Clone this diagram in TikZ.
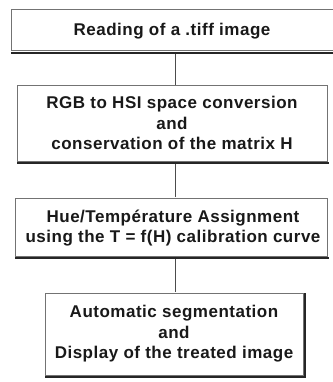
\documentclass[tikz,border=0pt]{standalone}
\usepackage{fontspec}
\setmainfont{Liberation Sans}[BoldFont={Liberation Sans Bold}]
\newfontfamily\boxfont{Liberation Sans Bold}[LetterSpace=3]
\begin{document}
\begin{tikzpicture}[x=1pt,y=-1pt,
  stepbox/.style={draw=black!55, line width=1pt},
  shadowline/.style={draw=black!85, line width=2pt},
  link/.style={draw=black!70, line width=0.9pt},
  label/.style={font=\boxfont\fontsize{17}{20.5}\selectfont, align=center, text=black!90, inner sep=0pt}]
\useasboundingbox (0,0) rectangle (332,382);
\fill[white] (0,0) rectangle (332,382);

% boxes
\draw[stepbox] (11,10) rectangle (338,51);
\draw[shadowline] (11,53) -- (338,53);
\draw[stepbox] (17,86) rectangle (327,161);
\draw[shadowline] (17,163) -- (329,163);
\draw[stepbox] (15,198) rectangle (327,256);
\draw[shadowline] (15,258) -- (329,258);
\draw[stepbox] (45,293) rectangle (303,375);
\draw[shadowline] (45,377) -- (305,377) -- (305,293);

% anchors for the connectors
\coordinate (b1) at (175,54);
\coordinate (t2) at (175,85);
\coordinate (b2) at (175,164);
\coordinate (t3) at (175,197);
\coordinate (b3) at (175,259);
\coordinate (t4) at (175,292);

\node[label] (n1) at (172,31) {Reading of a .tiff image};
\node[label] (n2) at (172,123) {RGB to HSI space conversion\\and\\conservation of the matrix H};
\node[label] (n3) at (173,228) {Hue/Température Assignment\\using the T = f(H) calibration curve};
\node[label] (n4) at (174,334) {Automatic segmentation\\and\\Display of the treated image};

\draw[link] (b1) -- (t2);
\draw[link] (b2) -- (t3);
\draw[link] (b3) -- (t4);
\end{tikzpicture}
\end{document}
